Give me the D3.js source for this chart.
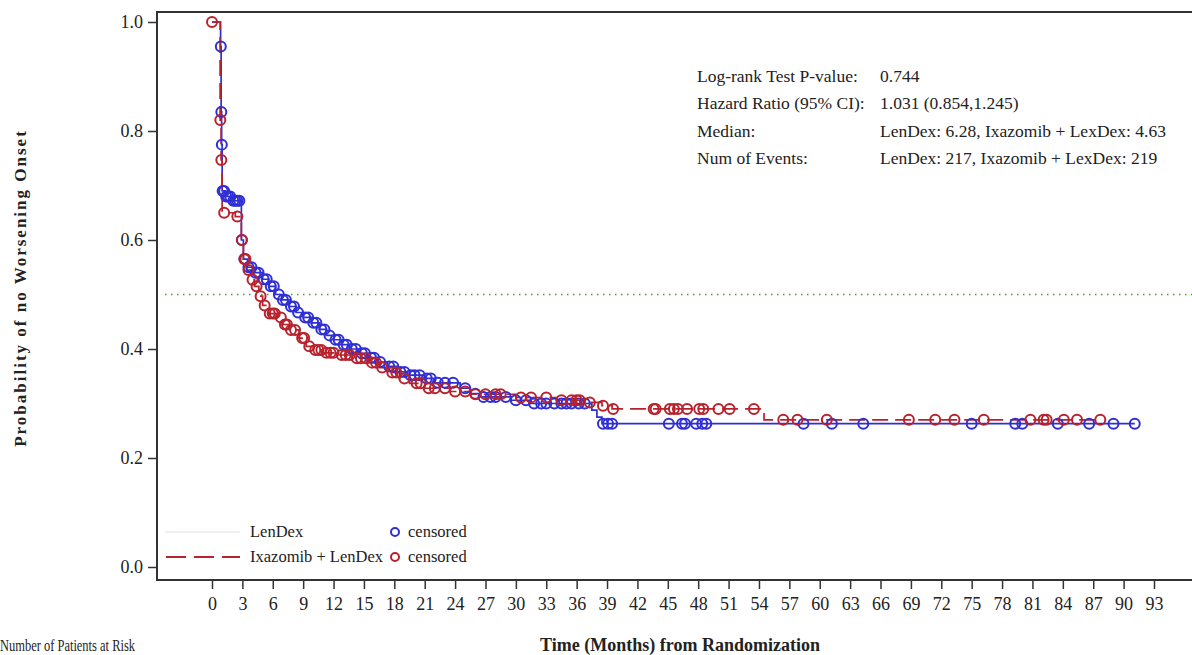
<!DOCTYPE html>
<html><head><meta charset="utf-8">
<script src="https://cdn.jsdelivr.net/npm/d3@7"></script>
<style>body{margin:0;background:#fff}svg{display:block}text{font-family:"Liberation Serif","Times New Roman",serif;fill:#222}</style>
</head><body><svg id="c" width="1192" height="655"></svg>
<script>
// ---- data ----
const xTicks = d3.range(0, 94, 3);
const yTicks = [0, 0.2, 0.4, 0.6, 0.8, 1.0];
const lenTimes = [0,0.85,0.9,0.95,1.0,1.3,2.0,2.9,3.1,3.5,4.2,5.0,5.6,6.28,6.9,7.6,8.3,9.0,9.8,10.6,11.3,12.0,12.8,13.6,14.5,15.4,16.3,17.3,18.3,19.3,21.0,22.0,24.5,25.5,26.5,29.5,31.5,37.5,38.0,38.5];
const lenSurv  = [1.0,0.955,0.835,0.775,0.69,0.68,0.672,0.60,0.565,0.55,0.54,0.528,0.515,0.50,0.49,0.478,0.467,0.458,0.448,0.436,0.425,0.417,0.408,0.40,0.392,0.384,0.376,0.368,0.358,0.352,0.346,0.338,0.328,0.318,0.312,0.306,0.30,0.288,0.275,0.263];
const lenEnd = 91.1;
const lenCens = [0.87,0.92,0.97,1.05,1.2,1.4,1.6,1.8,2.1,2.3,2.5,2.7,2.95,3.2,3.6,3.9,4.3,4.6,5.1,5.4,5.8,6.1,6.6,7.0,7.3,7.8,8.1,8.5,9.2,9.5,10.0,10.3,10.8,11.1,11.6,12.2,12.5,13.0,13.3,13.8,14.2,14.8,15.1,15.7,16.0,16.6,17.5,17.9,18.6,19.0,19.6,20.0,20.5,21.2,21.6,22.3,23.0,23.8,25.0,26.0,26.8,27.5,28.0,29.0,30.0,31.0,31.8,32.5,33.0,33.8,34.5,35.0,35.5,36.2,36.8,38.6,39.1,39.5,45.1,46.4,46.7,47.8,48.4,48.8,58.4,61.2,64.3,75.0,79.3,80.0,83.5,86.6,89.0,91.1];
const ixaTimes = [0,0.8,0.9,1.0,2.3,2.9,3.1,3.4,3.8,4.2,4.63,5.0,5.5,6.5,7.0,7.6,8.6,9.3,10.0,11.0,12.5,14.0,15.5,16.5,17.5,18.5,19.5,21.0,23.5,25.5,30.0,34.0,37.0,38.5,39.5,54.5];
const ixaSurv  = [1.0,0.82,0.747,0.65,0.643,0.60,0.565,0.545,0.527,0.515,0.497,0.48,0.465,0.458,0.445,0.435,0.42,0.405,0.398,0.393,0.389,0.383,0.375,0.366,0.357,0.346,0.337,0.328,0.322,0.317,0.311,0.306,0.302,0.296,0.29,0.27];
const ixaEnd = 87.7;
const ixaCens = [0,0.82,0.92,1.2,2.5,2.95,3.2,3.3,3.6,4.0,4.4,4.8,5.2,5.7,6.0,6.2,6.8,7.2,7.4,7.8,8.2,8.9,9.1,9.6,10.2,10.5,10.8,11.3,11.7,12.0,12.8,13.2,13.6,14.3,14.7,15.2,15.8,16.2,16.8,17.8,18.2,19.0,20.2,20.6,21.4,22.0,23.0,24.0,25.0,26.0,27.0,28.0,28.5,30.5,31.5,33.0,34.5,35.5,36.0,36.3,37.3,38.6,39.6,43.6,43.8,45.2,45.6,46.0,46.9,48.1,48.5,50.0,51.1,53.5,56.4,57.8,60.7,68.8,71.4,73.3,76.2,80.8,82.1,82.4,84.1,85.4,87.7];
const statLabels = ["Log-rank Test P-value:","Hazard Ratio (95% CI):","Median:","Num of Events:"];
const statValues = ["0.744","1.031 (0.854,1.245)","LenDex: 6.28, Ixazomib + LexDex: 4.63","LenDex: 217, Ixazomib + LexDex: 219"];
const armNames = ["LenDex","Ixazomib + LenDex"];

// ---- drawing ----
const svg = d3.select("#c");
const x = d3.scaleLinear().domain([0,93]).range([212,1154]);
const y = d3.scaleLinear().domain([0,1]).range([567,22]);
const BLUE = "#2f2fd4", RED = "#b8222c";

// frame
svg.append("line").attr("x1",157).attr("x2",1192).attr("y1",12).attr("y2",12).attr("stroke","#333").attr("stroke-width",2);
svg.append("line").attr("x1",157).attr("x2",157).attr("y1",11).attr("y2",581).attr("stroke","#333").attr("stroke-width",2);
svg.append("line").attr("x1",156).attr("x2",1192).attr("y1",580).attr("y2",580).attr("stroke","#333").attr("stroke-width",2);

// y axis
const ya = svg.append("g").attr("transform","translate(157,0)").call(d3.axisLeft(y).tickValues(yTicks).tickFormat(d3.format(".1f")).tickSize(9).tickPadding(5));
ya.select(".domain").remove();
ya.selectAll("line").attr("stroke","#333").attr("stroke-width",1.5);
ya.selectAll("text").style("font-family","Liberation Serif").style("font-size","18px").attr("fill","#222");

// x axis
const xa = svg.append("g").attr("transform","translate(0,580)").call(d3.axisBottom(x).tickValues(xTicks).tickSize(9).tickPadding(8));
xa.select(".domain").remove();
xa.selectAll("line").attr("stroke","#333").attr("stroke-width",1.5);
xa.selectAll("text").style("font-family","Liberation Serif").style("font-size","18px").attr("fill","#222");

// reference line at 0.5
svg.append("line").attr("x1",165).attr("x2",1192).attr("y1",y(0.5)).attr("y2",y(0.5)).attr("stroke","#3e9a3e").attr("stroke-width",1.5).attr("stroke-dasharray","1.5,4.5");

function stepPts(times, surv, end){
  const pts = times.map((t,i)=>[t,surv[i]]);
  pts.push([end, surv[surv.length-1]]);
  return pts;
}
function survAt(times, surv, t){
  let v = surv[0];
  for (let i=0;i<times.length;i++){ if (times[i] <= t) v = surv[i]; }
  return v;
}
const line = d3.line().x(d=>x(d[0])).y(d=>y(d[1])).curve(d3.curveStepAfter);

svg.append("path").datum(stepPts(lenTimes,lenSurv,lenEnd)).attr("d",line).attr("fill","none").attr("stroke",BLUE).attr("stroke-width",1.7);
svg.append("path").datum(stepPts(ixaTimes,ixaSurv,ixaEnd)).attr("d",line).attr("fill","none").attr("stroke",RED).attr("stroke-width",1.7).attr("stroke-dasharray","16,7");

svg.append("g").selectAll("circle").data(lenCens).join("circle")
  .attr("cx",d=>x(d)).attr("cy",d=>y(survAt(lenTimes,lenSurv,d))).attr("r",5)
  .attr("fill","none").attr("stroke",BLUE).attr("stroke-width",2);
svg.append("g").selectAll("circle").data(ixaCens).join("circle")
  .attr("cx",d=>x(d)).attr("cy",d=>y(survAt(ixaTimes,ixaSurv,d))).attr("r",5)
  .attr("fill","none").attr("stroke",RED).attr("stroke-width",2);

// stats
const st = svg.append("g").style("font-size","17.5px");
statLabels.forEach((s,i)=>{
  st.append("text").attr("x",697).attr("y",82+i*27.3).text(s);
  st.append("text").attr("x",880).attr("y",82+i*27.3).text(statValues[i]);
});

// legend
svg.append("line").attr("x1",165).attr("x2",240).attr("y1",532).attr("y2",532).attr("stroke","#e6eaf5").attr("stroke-width",1.5);
svg.append("line").attr("x1",166).attr("x2",240).attr("y1",557).attr("y2",557).attr("stroke",RED).attr("stroke-width",2).attr("stroke-dasharray","20,8");
[0,1].forEach(i=>{
  const yy = 532 + i*25;
  svg.append("text").attr("x",250).attr("y",yy+5).style("font-size","16.5px").text(armNames[i]);
  svg.append("circle").attr("cx",395).attr("cy",yy).attr("r",4).attr("fill","none").attr("stroke",i?RED:BLUE).attr("stroke-width",2);
  svg.append("text").attr("x",408).attr("y",yy+5).style("font-size","16.5px").text("censored");
});

// titles
svg.append("text").attr("transform","translate(26,288) rotate(-90)").attr("text-anchor","middle")
  .style("font-size","17px").style("font-weight","bold").style("letter-spacing","2px").text("Probability of no Worsening Onset");
svg.append("text").attr("x",680).attr("y",651).attr("text-anchor","middle").style("font-size","18px").style("font-weight","bold").text("Time (Months) from Randomization");
svg.append("text").attr("x",0).attr("y",651).style("font-size","16px").attr("textLength",135).attr("lengthAdjust","spacingAndGlyphs").text("Number of Patients at Risk");
</script></body></html>
